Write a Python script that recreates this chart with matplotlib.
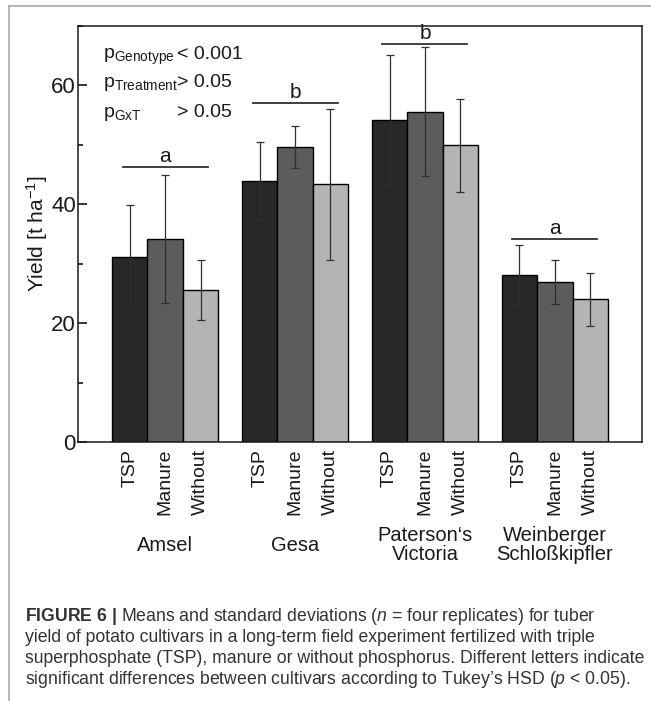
import matplotlib
matplotlib.use("Agg")
import matplotlib.pyplot as plt
import matplotlib.transforms as mtransforms
from matplotlib.lines import Line2D
from matplotlib.ticker import MultipleLocator

plt.rcParams['font.family'] = ['Liberation Sans', 'DejaVu Sans']
plt.rcParams['mathtext.fontset'] = 'custom'
plt.rcParams['mathtext.rm'] = 'Liberation Sans'
plt.rcParams['mathtext.it'] = 'Liberation Sans:italic'
plt.rcParams['mathtext.bf'] = 'Liberation Sans:bold'

# data
cultivars = ['Amsel', 'Gesa', 'Paterson\u2018s\nVictoria', 'Weinberger\nSchloßkipfler']
treatments = ['TSP', 'Manure', 'Without']
mean_tsp = [31.1, 44.0, 54.1, 28.1]
mean_manure = [34.2, 49.6, 55.6, 26.9]
mean_without = [25.6, 43.4, 49.9, 24.0]
sd_tsp = [8.7, 6.5, 11.0, 5.1]
sd_manure = [10.8, 3.5, 10.9, 3.7]
sd_without = [5.1, 12.7, 7.9, 4.5]
letters = ['a', 'b', 'b', 'a']
letter_heights = [46.3, 57.0, 67.0, 34.2]

means = [mean_tsp, mean_manure, mean_without]
sds = [sd_tsp, sd_manure, sd_without]
colors = ['#2a2826', '#5c5c5c', '#b3b4b3']

W, H = 651, 701
fig = plt.figure(figsize=(W / 100, H / 100), dpi=100)
fig.patch.set_facecolor('white')
ax = fig.add_axes([78 / W, 1 - 442 / H, 564 / W, 416 / H])

pitch = 3.67
margin = 0.96
text_col = '#1a1a1a'

for i, (m, s, c) in enumerate(zip(means, sds, colors)):
    xs = [g * pitch + i for g in range(len(cultivars))]
    ax.bar(xs, m, width=1.0, color=c, edgecolor='black', linewidth=1.0, zorder=2)
    ax.errorbar(xs, m, yerr=s, fmt='none', ecolor='#303030', elinewidth=0.9,
                capsize=3.2, capthick=0.9, zorder=3)

# significance letters
for g, (lt, h) in enumerate(zip(letters, letter_heights)):
    x0 = g * pitch - 0.2
    x1 = g * pitch + 2.2
    ax.plot([x0, x1], [h, h], color='#303030', lw=1.3, zorder=3)
    ax.text(g * pitch + 1, h + 0.2, lt, ha='center', va='bottom', fontsize=15, color=text_col)

ax.set_xlim(-0.5 - margin, (len(cultivars) - 1) * pitch + 2.5 + margin)
ax.set_ylim(0, 70)

tick_pos = [g * pitch + i for g in range(len(cultivars)) for i in range(len(treatments))]
tick_lab = [t for g in range(len(cultivars)) for t in treatments]
ax.set_xticks(tick_pos, tick_lab, rotation=90, fontsize=14, color=text_col)
ax.tick_params(axis='x', length=0, pad=5)

ax.yaxis.set_major_locator(MultipleLocator(20))
ax.yaxis.set_minor_locator(MultipleLocator(10))
ax.tick_params(axis='y', which='both', direction='in', width=1.1, pad=1.5,
               labelsize=16, labelcolor=text_col)
ax.tick_params(axis='y', which='major', length=6.5)
ax.tick_params(axis='y', which='minor', length=3.6)
ax.set_ylabel('Yield [t ha$^{-1}$]', fontsize=15, labelpad=1, color=text_col)

for sp in ax.spines.values():
    sp.set_linewidth(1.1)
    sp.set_color(text_col)

# cultivar names under the tick labels
trans = mtransforms.blended_transform_factory(ax.transData, ax.transAxes)
for g, name in enumerate(cultivars):
    ax.text(g * pitch + 1, -0.2476, name, transform=trans, ha='center', va='center',
            fontsize=14.5, linespacing=1.05, color=text_col)

# ANOVA p values
p_lab = [r'$\mathrm{p}_{\mathrm{Genotype}}$', r'$\mathrm{p}_{\mathrm{Treatment}}$',
         r'$\mathrm{p}_{\mathrm{GxT}}$']
p_val = ['< 0.001', '> 0.05', '> 0.05']
p_y = [0.9207, 0.8534, 0.7813]
for lab, val, yy in zip(p_lab, p_val, p_y):
    ax.text(0.0443, yy, lab, transform=ax.transAxes, fontsize=14, va='baseline', color=text_col)
    ax.text(0.1755, yy, val, transform=ax.transAxes, fontsize=14, va='baseline', color=text_col)

# figure frame
fig.add_artist(Line2D([9 / W, 1], [1 - 6 / H, 1 - 6 / H], transform=fig.transFigure,
                      color='#a8a8a8', lw=1.2))
fig.add_artist(Line2D([9 / W, 9 / W], [0, 1 - 6 / H], transform=fig.transFigure,
                      color='#a8a8a8', lw=1.2))

# caption
caption = [
    r'$\mathbf{FIGURE\ 6\ |}$ Means and standard deviations ($n$ = four replicates) for tuber',
    'yield of potato cultivars in a long-term field experiment fertilized with triple',
    'superphosphate (TSP), manure or without phosphorus. Different letters indicate',
    r'significant differences between cultivars according to Tukey\u2019s HSD ($p$ < 0.05).',
]
caption[3] = caption[3].replace(r'\u2019', '\u2019')
for k, line in enumerate(caption):
    fig.text(25 / W, 1 - (621 + 21 * k) / H, line, fontsize=12.7, va='baseline',
             color='#333333')

fig.savefig('out.png', dpi=100)
